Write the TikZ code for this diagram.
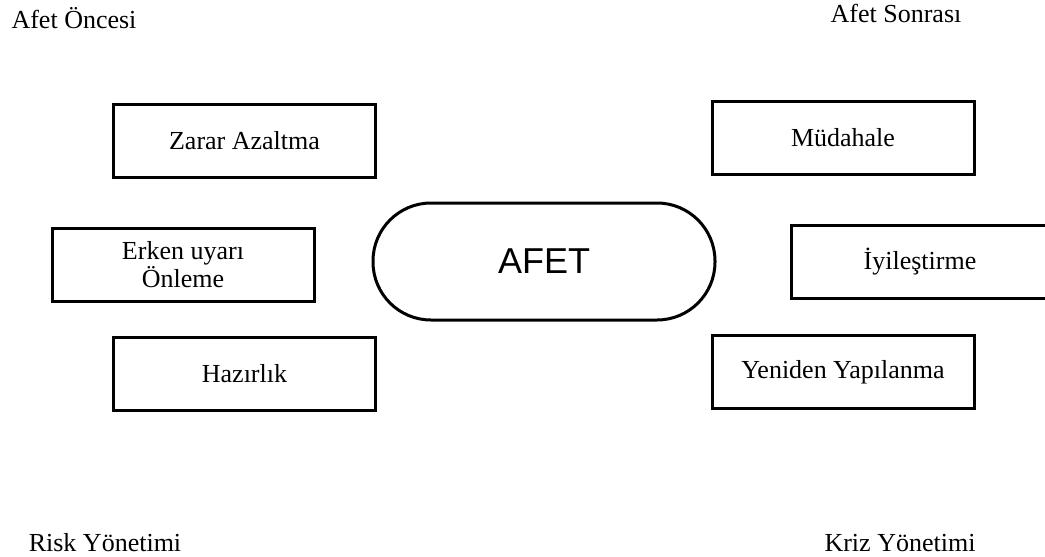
\documentclass[tikz,border=0pt]{standalone}
\usepackage{fontspec}
\setmainfont{Liberation Serif}
\newfontfamily\afetfont{Liberation Sans}
\usepackage{tikz}

\begin{document}
\begin{tikzpicture}[x=0.5pt,y=-0.5pt]

	\tikzstyle phase box=[draw, line width=1.5pt, rectangle, minimum width=131pt, minimum height=36.5pt, inner sep=0pt, font=\fontsize{13}{13}\selectfont, align=center];
	\tikzstyle phase label=[font=\fontsize{13}{15}\selectfont, inner sep=0pt];
	\tikzstyle disaster=[draw, line width=1.5pt, rectangle, rounded corners=29pt, minimum width=171pt, minimum height=58.5pt, font=\afetfont\fontsize{18}{20}\selectfont];

	\useasboundingbox (0,0) rectangle (1045,557);
	\clip (0,0) rectangle (1045,557);

	% corner labels
	\node[phase label] (oncesi) at (74,18) {Afet Öncesi};
	\node[phase label] (sonrasi) at (896,13) {Afet Sonrası};
	\node[phase label] (risk) at (105,543) {Risk Yönetimi};
	\node[phase label] (kriz) at (900,543) {Kriz Yönetimi};

	% centre
	\node[disaster] (afet) at (544,261.5) {AFET};

	% before the disaster
	\node[phase box] (zarar) at (244.5,141) {Zarar Azaltma};
	\node[phase box] (erken) at (183,264.5) {Erken uyarı\\Önleme};
	\node[phase box] (hazirlik) at (244.5,374) {Hazırlık};

	% after the disaster
	\node[phase box] (mudahale) at (843,138) {Müdahale};
	\node[phase box, minimum width=129pt] (iyilestirme) at (920,261.5) {İyileştirme};
	\node[phase box] (yeniden) at (843,372) {Yeniden Yapılanma};

\end{tikzpicture}
\end{document}
